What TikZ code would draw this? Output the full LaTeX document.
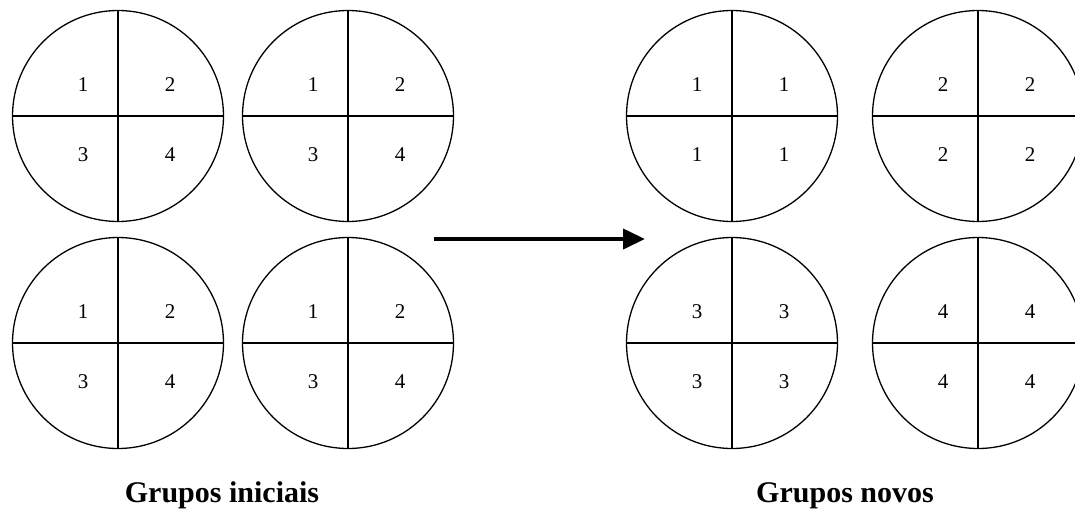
\documentclass[tikz,border=0pt]{standalone}
\usepackage{fontspec}
\setmainfont{Liberation Serif}
\usepackage{tikz}
\usetikzlibrary{
  arrows.meta,
  calc
}
\tikzset{
  groupdisc/.style={draw=black,circle,minimum size=211pt,inner sep=0pt,line width=1.3pt},
  divider/.style={draw=black,line width=1.3pt},
  cellnum/.style={inner sep=0pt,font=\fontsize{21}{21}\selectfont},
  caption/.style={inner sep=0pt,anchor=base,font=\fontsize{30}{30}\selectfont\bfseries},
  regroup/.style={-{Triangle[length=22pt,width=20pt]},line width=4pt,draw=black}
}

\begin{document}
\begin{tikzpicture}[x=1pt,y=-1pt]
\useasboundingbox (0,0) rectangle (1075,509);

\foreach \nm/\cx/\cy/\a/\b/\c/\d in {
  ia/118/116/1/2/3/4, ib/348/116/1/2/3/4,
  ic/118/343/1/2/3/4, id/348/343/1/2/3/4,
  na/732/116/1/1/1/1, nb/978/116/2/2/2/2,
  nc/732/343/3/3/3/3, nd/978/343/4/4/4/4}{
  \node[groupdisc] (\nm) at (\cx,\cy) {};
  \draw[divider] (\nm.north) -- (\nm.south);
  \draw[divider] (\nm.west) -- (\nm.east);
  \node[cellnum] (\nm-a) at ([shift={(-35,-31)}]\nm.center) {\a};
  \node[cellnum] (\nm-b) at ([shift={(52,-31)}]\nm.center) {\b};
  \node[cellnum] (\nm-c) at ([shift={(-35,39)}]\nm.center) {\c};
  \node[cellnum] (\nm-d) at ([shift={(52,39)}]\nm.center) {\d};
}

\coordinate (arrowtail) at (434,239);
\coordinate (arrowtip) at (645,239);
\draw[regroup] (arrowtail) -- (arrowtip);

\node[caption] (initial) at (222,502) {Grupos iniciais};
\node[caption] (novos) at (845,502) {Grupos novos};
\end{tikzpicture}
\end{document}
